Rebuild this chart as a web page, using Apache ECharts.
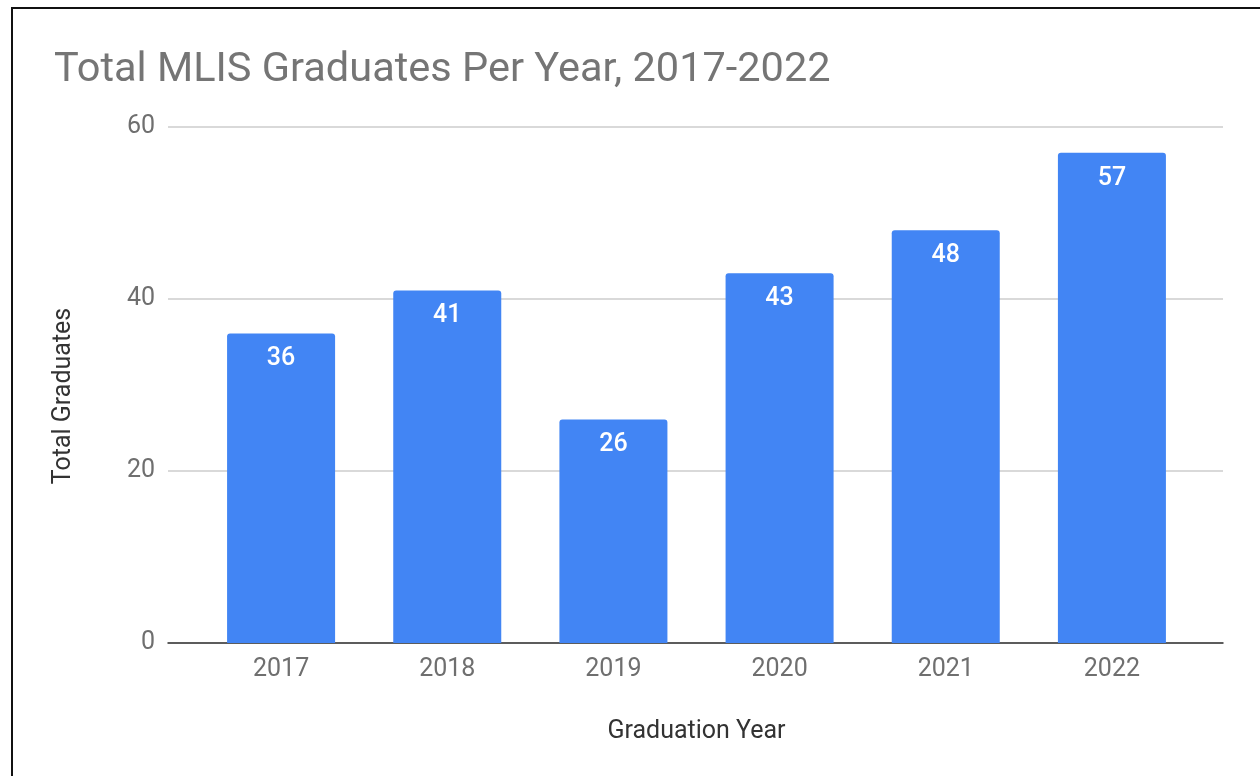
<!DOCTYPE html>
<html>
<head>
<meta charset="utf-8">
<script src="https://cdn.jsdelivr.net/npm/echarts@6/dist/echarts.min.js"></script>
<style>
  html, body { margin: 0; padding: 0; background: #fff; width: 1260px; height: 776px; overflow: hidden; }
  #frame { position: absolute; left: 11px; top: 7px; width: 1400px; height: 900px; border-left: 2px solid #111; border-top: 2px solid #111; }
  #chart { position: absolute; left: 0; top: 0; width: 1260px; height: 776px; }
</style>
</head>
<body>
<div id="frame"></div>
<div id="chart"></div>
<script>
const titleText = 'Total MLIS Graduates Per Year, 2017-2022';
const years = ['2017', '2018', '2019', '2020', '2021', '2022'];
const graduates = [36, 41, 26, 43, 48, 57];
const yMin = 0, yMax = 60, yStep = 20;
const xAxisName = 'Graduation Year';
const yAxisName = 'Total Graduates';

const font = 'Roboto, "Noto Sans", Arial, sans-serif';
const chart = echarts.init(document.getElementById('chart'), null, { renderer: 'canvas' });
chart.setOption({
  backgroundColor: 'transparent',
  animation: false,
  title: {
    text: titleText,
    left: 49,
    top: 45,
    textStyle: { fontFamily: font, fontSize: 41.5, fontWeight: 'normal', color: '#757575' }
  },
  grid: [
    { left: 168, right: 37, top: 127, bottom: 133, containLabel: false },
    { left: 198, right: 65, top: 127, bottom: 133, containLabel: false }
  ],
  xAxis: [
    {
      gridIndex: 0, type: 'value', min: 0, max: 1,
      axisLine: { show: true, onZero: false, lineStyle: { color: '#333', width: 1.5 } },
      axisTick: { show: false }, axisLabel: { show: false }, splitLine: { show: false }
    },
    {
      gridIndex: 1, type: 'category', data: years,
      axisLine: { show: false }, axisTick: { show: false },
      axisLabel: { fontFamily: font, fontSize: 25, color: '#6f6f6f', margin: 14 },
      name: xAxisName, nameLocation: 'middle', nameGap: 76,
      nameTextStyle: { fontFamily: font, fontSize: 25, color: '#333' }
    }
  ],
  yAxis: [
    {
      gridIndex: 0, type: 'value', min: yMin, max: yMax, interval: yStep,
      axisLine: { show: false }, axisTick: { show: false },
      axisLabel: { fontFamily: font, fontSize: 25, color: '#6f6f6f', margin: 13, padding: [3, 0, 0, 0] },
      splitLine: { lineStyle: { color: '#cccccc', width: 1.5 } }
    },
    {
      gridIndex: 1, type: 'value', min: yMin, max: yMax, interval: yStep,
      show: false, splitLine: { show: false }
    }
  ],
  graphic: [
    {
      type: 'text', x: 64, y: 396, rotation: Math.PI / 2,
      style: { text: yAxisName, fontFamily: font, fontSize: 25, fill: '#333', align: 'center', verticalAlign: 'middle' }
    }
  ],
  series: [
    {
      type: 'bar', xAxisIndex: 1, yAxisIndex: 1, data: graduates,
      barWidth: '65%',
      itemStyle: { color: '#4285F4', borderRadius: [3, 3, 0, 0] },
      label: {
        show: true, position: 'insideTop', distance: 13,
        fontFamily: font, fontSize: 25, fontWeight: 500, color: '#ffffff'
      }
    }
  ]
});
</script>
</body>
</html>
